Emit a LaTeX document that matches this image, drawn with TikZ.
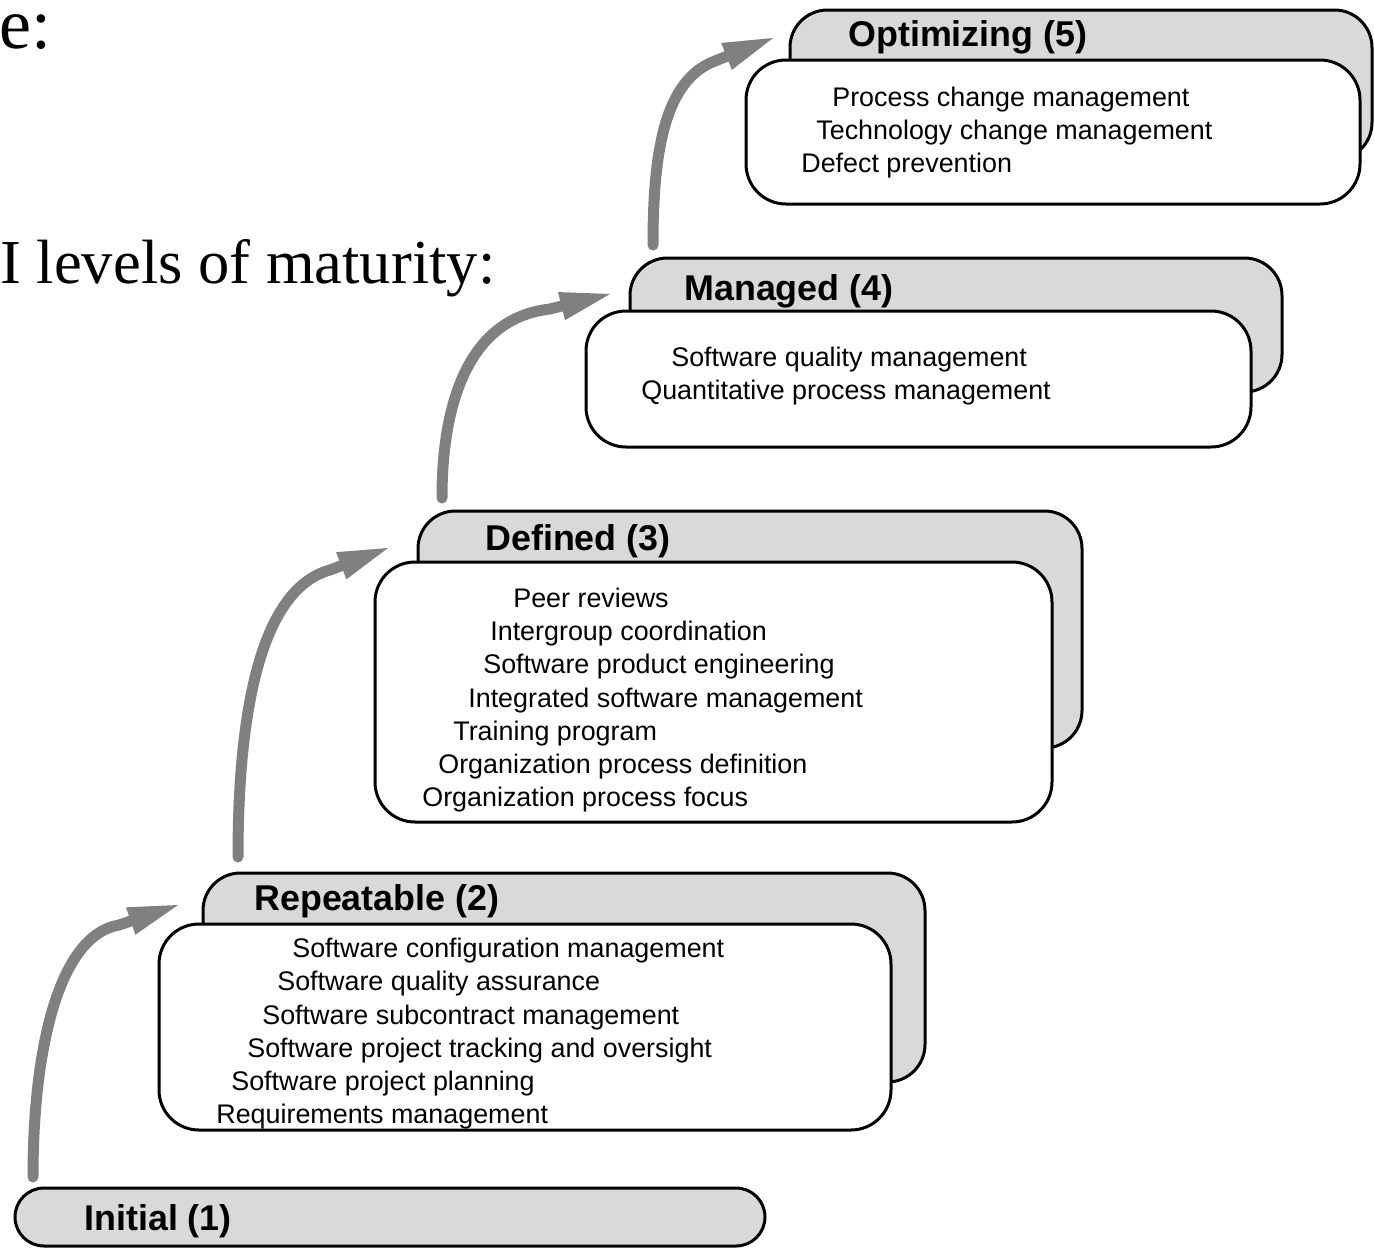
\documentclass[tikz,border=0pt]{standalone}
\usepackage{fontspec}
\setmainfont{Liberation Serif}
\newfontfamily\arialfam{Liberation Sans}
\usetikzlibrary{arrows.meta}
\begin{document}
\begin{tikzpicture}[x=0.02cm,y=-0.02cm,
  backbox/.style={draw=black, line width=0.06cm, fill=gray!30, rounded corners=0.75cm},
  frontbox/.style={draw=black, line width=0.06cm, fill=white, rounded corners=0.8cm},
  basebox/.style={draw=black, line width=0.06cm, fill=gray!30, rounded corners=0.58cm},
  leveltitle/.style={anchor=base west, inner sep=0pt, font=\arialfam\bfseries\fontsize{20.4}{24}\selectfont},
  item/.style={anchor=base west, inner sep=0pt, font=\arialfam\fontsize{15.3}{18}\selectfont},
  heading/.style={anchor=base west, inner sep=0pt},
  climb/.style={draw=gray, line width=0.22cm, line cap=round, line join=round,
    -{Triangle[length=1cm, width=0.58cm, line width=0pt]}}
]
\useasboundingbox (0,0) rectangle (1374,1248);

% slide heading fragments
\node[heading, font=\fontsize{41}{48}\selectfont] (hA) at (-1,48) {e:};
\node[heading, font=\fontsize{35.6}{42}\selectfont] (hB) at (0,283) {I levels of maturity:};

% level 5
\draw[backbox] (790,10) rectangle (1372,160);
\draw[frontbox] (746,60) rectangle (1360,204);
\node[leveltitle] (t5) at (848,46) {Optimizing (5)};
\node[item] (i5a) at (832,106) {Process change management};
\node[item] (i5b) at (816,139) {Technology change management};
\node[item] (i5c) at (801,172) {Defect prevention};

% level 4
\draw[backbox] (630,258) rectangle (1282,392);
\draw[frontbox] (586,311) rectangle (1251,447);
\node[leveltitle] (t4) at (684,300) {Managed (4)};
\node[item] (i4a) at (671,366) {Software quality management};
\node[item] (i4b) at (641,399) {Quantitative process management};

% level 3
\draw[backbox] (418,511) rectangle (1082,748);
\draw[frontbox] (375,562) rectangle (1052,822);
\node[leveltitle] (t3) at (485,550) {Defined (3)};
\node[item] (i3a) at (513,607) {Peer reviews};
\node[item] (i3b) at (490,640) {Intergroup coordination};
\node[item] (i3c) at (483,673) {Software product engineering};
\node[item] (i3d) at (468,707) {Integrated software management};
\node[item] (i3e) at (453,740) {Training program};
\node[item] (i3f) at (438,773) {Organization process definition};
\node[item] (i3g) at (422,806) {Organization process focus};

% level 2
\draw[backbox] (203,873) rectangle (925,1082);
\draw[frontbox] (159,924) rectangle (891,1130);
\node[leveltitle] (t2) at (254,910) {Repeatable (2)};
\node[item] (i2a) at (292,957) {Software configuration management};
\node[item] (i2b) at (277,990) {Software quality assurance};
\node[item] (i2c) at (262,1024) {Software subcontract management};
\node[item] (i2d) at (247,1057) {Software project tracking and oversight};
\node[item] (i2e) at (231,1090) {Software project planning};
\node[item] (i2f) at (216,1123) {Requirements management};

% level 1
\draw[basebox] (15,1188) rectangle (765,1246);
\node[leveltitle] (t1) at (84,1230) {Initial (1)};

% climbing arrows between levels
\coordinate (s1) at (33,1177);  \coordinate (j1) at (119,925);  \coordinate (e1) at (178,905);
\coordinate (s2) at (238,857);  \coordinate (j2) at (330,570);  \coordinate (e2) at (388,548);
\coordinate (s3) at (442,498);  \coordinate (j3) at (550,309);  \coordinate (e3) at (610,294);
\coordinate (s4) at (653,245);  \coordinate (j4) at (715,61);   \coordinate (e4) at (773,38);

\draw[climb] (s1) .. controls (33,1045) and (60,935) .. (j1) -- (e1);
\draw[climb] (s2) .. controls (238,720) and (258,590) .. (j2) -- (e2);
\draw[climb] (s3) .. controls (442,400) and (470,318) .. (j3) -- (e3);
\draw[climb] (s4) .. controls (653,150) and (665,80) .. (j4) -- (e4);
\end{tikzpicture}
\end{document}
